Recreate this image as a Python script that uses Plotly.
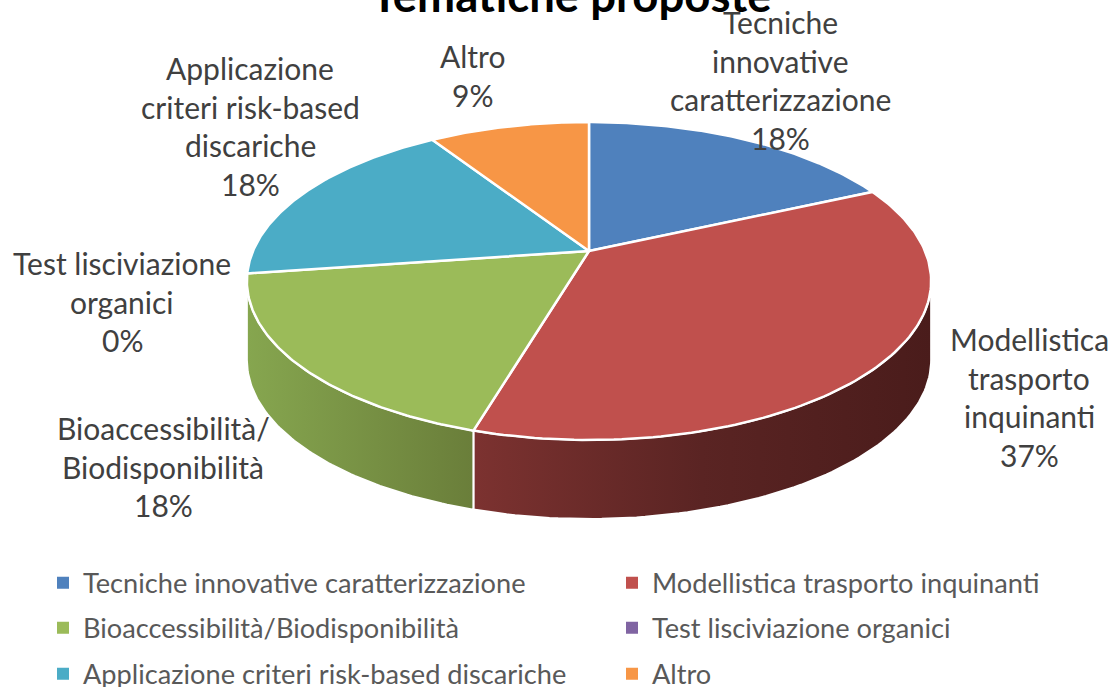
import numpy as np
import plotly.graph_objects as go

categories = ["Tecniche innovative caratterizzazione", "Modellistica trasporto inquinanti",
              "Bioaccessibilità/Biodisponibilità", "Test lisciviazione organici",
              "Applicazione criteri risk-based discariche", "Altro"]
values = [18.2, 36.4, 18.2, 0, 18.2, 9.1]
colors = ["#4f81bd", "#c0504d", "#9bbb59", "#8064a2", "#4bacc6", "#f79646"]
wall_scales = {1: ["#7c3230", "#5a2423", "#4a1c1b"], 2: ["#86a64f", "#6a7e3a"]}
title = "Tematiche proposte"
label_lines = [
    ["Tecniche", "innovative", "caratterizzazione", "18%"],
    ["Modellistica", "trasporto", "inquinanti", "37%"],
    ["Bioaccessibilità/", "Biodisponibilità", "18%"],
    ["Test lisciviazione", "organici", "0%"],
    ["Applicazione", "criteri risk-based", "discariche", "18%"],
    ["Altro", "9%"],
]
label_cx = [780, 1029, 163, 122, 250, 472]
label_top = [22, 339, 428, 263, 68, 56]
LINE = 38.7
FONT = "Lato, Carlito, Calibri, sans-serif"

# projected pie geometry
CX, CY, A, B, K, DEPTH = 589, 251, 153.3, 336, 0.1887, 79


def project(theta):
    u, v = np.sin(theta), np.cos(theta)
    d = 1 + K * v
    return CX + B * u / d, CY - A * v / d


fig = go.Figure()
edges = np.radians(np.concatenate([[0], np.cumsum(values) / np.sum(values) * 360]))
sil_r, sil_l = np.arccos(-K), 2 * np.pi - np.arccos(-K)

# side walls
for i, val in enumerate(values):
    a, b = max(edges[i], sil_r), min(edges[i + 1], sil_l)
    if val == 0 or b <= a:
        continue
    th = np.linspace(a, b, 80)
    x, y = project(th)
    px = np.concatenate([x, x[::-1], x[:1]])
    py = np.concatenate([y, y[::-1] + DEPTH, y[:1]])
    stops = wall_scales[i]
    fig.add_trace(go.Scatter(
        x=px, y=py, mode="lines", fill="toself", showlegend=False, hoverinfo="skip",
        line=dict(color="white", width=2),
        fillgradient=dict(type="horizontal",
                          colorscale=[[j / (len(stops) - 1), c] for j, c in enumerate(stops)])))

# top faces
for i, val in enumerate(values):
    if val == 0:
        continue
    th = np.linspace(edges[i], edges[i + 1], 120)
    x, y = project(th)
    fig.add_trace(go.Scatter(
        x=np.concatenate([[CX], x, [CX]]), y=np.concatenate([[CY], y, [CY]]),
        mode="lines", fill="toself", fillcolor=colors[i], showlegend=False,
        line=dict(color="white", width=2.5), name=categories[i], hoverinfo="name"))

# legend: one small legend per entry
legend_pos = [(43, 583), (612, 583), (43, 628), (612, 628), (43, 674), (612, 674)]
W, H = 1111, 687
layout_legends = {}
for i, cat in enumerate(categories):
    key = "legend" if i == 0 else f"legend{i + 1}"
    fig.add_trace(go.Scatter(
        x=[None], y=[None], mode="markers", name=cat, legend=key, showlegend=True,
        marker=dict(symbol="square", size=12, color=colors[i])))
    lx, ly = legend_pos[i]
    layout_legends[key] = dict(x=lx / W, y=1 - ly / H, xanchor="left", yanchor="middle",
                               bgcolor="rgba(0,0,0,0)",
                               font=dict(family=FONT, size=27.2, color="#595959"))

annotations = [dict(text=f"<b>{title}</b>", x=571 / W, y=1 - 24 / H, xref="paper", yref="paper",
                    showarrow=False, xanchor="center", yanchor="bottom",
                    font=dict(family=FONT, size=45.5, color="black"))]
for lines, cx, top in zip(label_lines, label_cx, label_top):
    for j, line in enumerate(lines):
        annotations.append(dict(text=line, x=cx, y=top + j * LINE, xref="x", yref="y",
                                showarrow=False, xanchor="center", yanchor="middle",
                                font=dict(family=FONT, size=30, color="#404040")))

fig.update_layout(
    width=W, height=H, margin=dict(l=0, r=0, t=0, b=0, autoexpand=False),
    paper_bgcolor="white", plot_bgcolor="white",
    xaxis=dict(range=[0, W], visible=False, fixedrange=True),
    yaxis=dict(range=[H, 0], visible=False, fixedrange=True),
    annotations=annotations, **layout_legends)
fig.write_html("out.html", config={"displayModeBar": False},
               post_script="document.body.style.margin='0';document.body.style.overflow='hidden';")
